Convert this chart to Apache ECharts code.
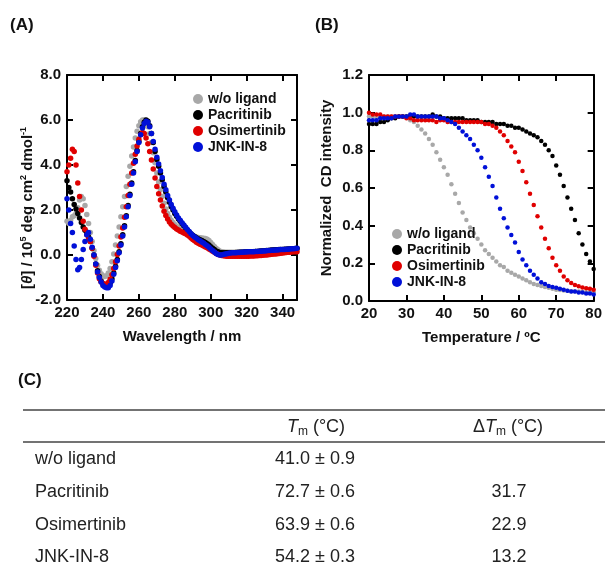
<!DOCTYPE html>
<html>
<head>
<meta charset="utf-8">
<script src="https://cdn.jsdelivr.net/npm/echarts@6/dist/echarts.min.js"></script>
<style>
  html, body { margin: 0; padding: 0; background: #fff; }
  #chart { width: 605px; height: 570px; }
</style>
</head>
<body>
<div id="chart"></div>
<script>
// (A) CD spectra, 220-348 nm, 1 nm step
var wlStart = 220
var cdGray = [1.5, 1.4, 1.55, 1.7, 1.75, 1.85, 2.1, 2.45, 2.6, 2.5, 2.2, 1.8, 1.4,
  1.0, 0.6, 0.2, -0.15, -0.45, -0.68, -0.83, -0.92, -0.95, -0.92,
  -0.8, -0.6, -0.3, 0.05, 0.45, 0.85, 1.25, 1.7, 2.15, 2.6,
  3.05, 3.5, 3.95, 4.4, 4.8, 5.2, 5.5, 5.75, 5.92, 6.0,
  6.0, 5.9, 5.7, 5.4, 5.0, 4.55, 4.1, 3.65, 3.25, 2.9,
  2.6, 2.3, 2.05, 1.85, 1.68, 1.55, 1.45, 1.36, 1.28, 1.22,
  1.16, 1.1, 1.05, 1.0, 0.96, 0.92, 0.88, 0.85, 0.82, 0.8,
  0.78, 0.77, 0.76, 0.75, 0.73, 0.7, 0.64, 0.56, 0.47, 0.38,
  0.3, 0.23, 0.18, 0.15, 0.13, 0.12, 0.12, 0.12, 0.12, 0.12,
  0.12, 0.12, 0.13, 0.13, 0.13, 0.14, 0.14, 0.14, 0.15, 0.15,
  0.15, 0.16, 0.16, 0.17, 0.17, 0.17, 0.18, 0.18, 0.19, 0.19,
  0.2, 0.2, 0.21, 0.21, 0.22, 0.22, 0.23, 0.23, 0.24, 0.24,
  0.25, 0.25, 0.26, 0.26, 0.27, 0.27]
var cdBlack = [3.3, 3.0, 2.8, 2.5, 2.25, 2.05, 1.85, 1.65, 1.45, 1.25, 1.1, 0.95, 0.8,
  0.6, 0.3, 0.0, -0.4, -0.7, -0.95, -1.15, -1.28, -1.35, -1.38,
  -1.35, -1.25, -1.05, -0.8, -0.5, -0.2, 0.15, 0.5, 0.9, 1.3,
  1.75, 2.2, 2.7, 3.2, 3.7, 4.2, 4.65, 5.05, 5.4, 5.7,
  5.9, 6.0, 5.95, 5.75, 5.4, 5.0, 4.6, 4.25, 3.95, 3.65,
  3.35, 3.05, 2.8, 2.55, 2.35, 2.15, 2.0, 1.85, 1.72, 1.6,
  1.5, 1.4, 1.3, 1.2, 1.1, 1.02, 0.95, 0.88, 0.82, 0.77,
  0.72, 0.68, 0.64, 0.6, 0.56, 0.5, 0.44, 0.37, 0.3, 0.24,
  0.18, 0.14, 0.11, 0.1, 0.1, 0.1, 0.1, 0.1, 0.1, 0.1,
  0.1, 0.11, 0.11, 0.12, 0.12, 0.12, 0.13, 0.13, 0.14, 0.14,
  0.15, 0.15, 0.16, 0.16, 0.17, 0.18, 0.18, 0.19, 0.2, 0.2,
  0.21, 0.22, 0.22, 0.23, 0.23, 0.24, 0.25, 0.25, 0.26, 0.26,
  0.27, 0.27, 0.28, 0.28, 0.29, 0.3]
var cdRed = [3.7, 4.0, 4.3, 4.7, 4.6, 4.0, 3.2, 2.6, 2.0, 1.5, 1.15, 0.9, 0.7,
  0.6, 0.3, -0.05, -0.45, -0.8, -1.05, -1.2, -1.28, -1.3, -1.3,
  -1.22, -1.08, -0.88, -0.6, -0.3, 0.02, 0.4, 0.8, 1.2, 1.68,
  2.15, 2.65, 3.15, 3.65, 4.08, 4.48, 4.85, 5.15, 5.35, 5.45,
  5.4, 5.2, 4.95, 4.6, 4.22, 3.82, 3.42, 3.05, 2.72, 2.44,
  2.18, 1.95, 1.76, 1.6, 1.47, 1.37, 1.29, 1.22, 1.16, 1.11,
  1.06, 1.02, 0.98, 0.94, 0.89, 0.83, 0.76, 0.69, 0.63, 0.57,
  0.52, 0.48, 0.44, 0.4, 0.36, 0.32, 0.27, 0.22, 0.17, 0.12,
  0.07, 0.03, 0.0, -0.02, -0.03, -0.04, -0.05, -0.05, -0.05, -0.05,
  -0.05, -0.05, -0.05, -0.05, -0.05, -0.05, -0.05, -0.05, -0.05, -0.04,
  -0.04, -0.04, -0.03, -0.03, -0.02, -0.02, -0.01, 0.0, 0.0, 0.01,
  0.02, 0.03, 0.04, 0.05, 0.06, 0.07, 0.08, 0.09, 0.1, 0.11,
  0.12, 0.12, 0.13, 0.14, 0.14, 0.15]
var cdBlue = [2.5, 2.0, 1.4, 1.0, 0.4, -0.2, -0.65, -0.55, -0.2, 0.25, 0.6, 0.9, 1.0,
  0.7, 0.35, 0.0, -0.4, -0.75, -1.0, -1.2, -1.35, -1.42, -1.46,
  -1.45, -1.35, -1.15, -0.85, -0.55, -0.25, 0.1, 0.45, 0.85, 1.25,
  1.7, 2.15, 2.65, 3.15, 3.65, 4.15, 4.6, 5.0, 5.35, 5.65,
  5.85, 5.95, 5.9, 5.7, 5.4, 5.05, 4.7, 4.35, 4.05, 3.75,
  3.45, 3.15, 2.9, 2.65, 2.45, 2.25, 2.08, 1.92, 1.78, 1.65,
  1.54, 1.43, 1.33, 1.23, 1.13, 1.04, 0.95, 0.87, 0.8, 0.74,
  0.68, 0.63, 0.58, 0.53, 0.47, 0.41, 0.34, 0.27, 0.2, 0.13,
  0.07, 0.02, 0.0, 0.0, 0.02, 0.04, 0.06, 0.08, 0.09, 0.1,
  0.1, 0.1, 0.11, 0.11, 0.12, 0.12, 0.13, 0.13, 0.14, 0.14,
  0.15, 0.15, 0.16, 0.16, 0.17, 0.17, 0.18, 0.18, 0.19, 0.2,
  0.2, 0.21, 0.21, 0.22, 0.22, 0.23, 0.24, 0.24, 0.25, 0.26,
  0.26, 0.27, 0.28, 0.28, 0.29, 0.3]

// (B) thermal melting, 20-80 degC, 1 degC step
var tStart = 20
var meltGray = [0.98, 0.98, 0.97, 0.98, 0.98, 0.98, 0.98, 0.98, 0.98, 0.98, 0.98,
  0.96, 0.95, 0.93, 0.91, 0.89, 0.86, 0.83, 0.79, 0.75, 0.71,
  0.67, 0.62, 0.57, 0.52, 0.47, 0.43, 0.39, 0.36, 0.33, 0.30,
  0.27, 0.25, 0.23, 0.21, 0.19, 0.18, 0.16, 0.15, 0.14, 0.13,
  0.12, 0.11, 0.10, 0.09, 0.085, 0.08, 0.075, 0.07, 0.065, 0.06,
  0.058, 0.056, 0.054, 0.052, 0.05, 0.05, 0.048, 0.047, 0.046, 0.045]
var meltBlack = [0.94, 0.94, 0.94, 0.95, 0.95, 0.96, 0.97, 0.97, 0.98, 0.98, 0.98,
  0.98, 0.98, 0.98, 0.98, 0.98, 0.98, 0.99, 0.98, 0.98, 0.97,
  0.97, 0.97, 0.97, 0.97, 0.97, 0.96, 0.96, 0.96, 0.96, 0.95,
  0.95, 0.95, 0.95, 0.94, 0.94, 0.94, 0.93, 0.93, 0.92, 0.92,
  0.91, 0.9, 0.89, 0.88, 0.87, 0.85, 0.83, 0.8, 0.77, 0.72,
  0.67, 0.61, 0.55, 0.49, 0.43, 0.36, 0.3, 0.25, 0.21, 0.17]
var meltRed = [1.0, 0.99, 0.99, 0.99, 0.98, 0.98, 0.98, 0.98, 0.98, 0.98, 0.97,
  0.97, 0.96, 0.96, 0.96, 0.96, 0.96, 0.96, 0.95, 0.96, 0.96,
  0.95, 0.95, 0.95, 0.95, 0.95, 0.95, 0.95, 0.95, 0.95, 0.95,
  0.94, 0.94, 0.93, 0.92, 0.9, 0.88, 0.85, 0.82, 0.79, 0.74,
  0.69, 0.63, 0.57, 0.51, 0.45, 0.39, 0.33, 0.28, 0.23, 0.19,
  0.16, 0.13, 0.11, 0.095, 0.085, 0.078, 0.072, 0.068, 0.065, 0.06]
var meltBlue = [0.96, 0.96, 0.96, 0.97, 0.97, 0.97, 0.97, 0.98, 0.98, 0.98, 0.98,
  0.99, 0.99, 0.98, 0.98, 0.98, 0.98, 0.98, 0.98, 0.97, 0.97,
  0.96, 0.95, 0.94, 0.92, 0.9, 0.88, 0.86, 0.83, 0.8, 0.76,
  0.71, 0.66, 0.61, 0.55, 0.49, 0.44, 0.39, 0.35, 0.31, 0.26,
  0.22, 0.19, 0.16, 0.14, 0.12, 0.1, 0.09, 0.08, 0.075, 0.07,
  0.065, 0.06, 0.055, 0.05, 0.05, 0.045, 0.045, 0.04, 0.04, 0.035]

// (C) table
var ligands = ['w/o ligand', 'Pacritinib', 'Osimertinib', 'JNK-IN-8']
var tmValues = ['41.0', '72.7', '63.9', '54.2']
var tmErrors = ['0.9', '0.6', '0.6', '0.3']
var dTmValues = ['', '31.7', '22.9', '13.2']

var colors = ['#a8a8a8', '#000000', '#e00000', '#0010d8']
var font = "'Liberation Sans', Arial, sans-serif"

function pairs(start, arr) {
  return arr.map(function (v, i) { return [start + i, v] })
}

var chart = echarts.init(document.getElementById('chart'))

var axisBase = {
  axisLine: { show: true, onZero: false, lineStyle: { color: '#000', width: 2 } },
  axisTick: { show: true, inside: true, length: 6, lineStyle: { color: '#000', width: 2 } },
  splitLine: { show: false }
}
function mkAxis(extra, labels) {
  var a = Object.assign({}, axisBase, extra)
  a.axisLabel = labels ? Object.assign({ color: '#111', fontFamily: font, fontWeight: 'bold', fontSize: 15 }, labels) : { show: false }
  return a
}

var cdSets = [cdGray, cdBlack, cdRed, cdBlue]
var meltSets = [meltGray, meltBlack, meltRed, meltBlue]
var series = []
ligands.forEach(function (name, k) {
  series.push({
    name: name, type: 'scatter', xAxisIndex: 0, yAxisIndex: 0,
    symbolSize: 5.5, itemStyle: { color: colors[k], opacity: 1 },
    data: pairs(wlStart, cdSets[k])
  })
})
ligands.forEach(function (name, k) {
  series.push({
    name: name, type: 'scatter', xAxisIndex: 2, yAxisIndex: 2,
    symbolSize: 4.5, itemStyle: { color: colors[k], opacity: 1 },
    data: pairs(tStart, meltSets[k])
  })
})

var legendBase = {
  orient: 'vertical', icon: 'circle', itemWidth: 10, itemHeight: 10, itemGap: 2,
  textStyle: { fontFamily: font, fontWeight: 'bold', fontSize: 14, color: '#111', lineHeight: 14 },
  data: ligands, selectedMode: false
}

var graphics = [
  { type: 'text', left: 10, top: 17, style: { text: '(A)', font: 'bold 17px ' + font, fill: '#111' } },
  { type: 'text', left: 315, top: 17, style: { text: '(B)', font: 'bold 17px ' + font, fill: '#111' } },
  { type: 'text', left: 18, top: 372, style: { text: '(C)', font: 'bold 17px ' + font, fill: '#111' } },
  {
    type: 'text', x: 28, y: 208, rotation: Math.PI / 2,
    style: {
      text: '{t|[}{i|θ}{t|] / 10}{s|5}{t| deg cm}{s|2}{t| dmol}{s|-1}',
      align: 'center', verticalAlign: 'middle',
      rich: {
        t: { fontFamily: font, fontWeight: 'bold', fontSize: 15, lineHeight: 18, fill: '#111' },
        i: { fontFamily: font, fontWeight: 'bold', fontStyle: 'italic', fontSize: 15, lineHeight: 18, fill: '#111' },
        s: { fontFamily: font, fontWeight: 'bold', fontSize: 9, lineHeight: 12, verticalAlign: 'top', fill: '#111' }
      }
    }
  },
  { type: 'line', shape: { x1: 23, y1: 410, x2: 605, y2: 410 }, style: { stroke: '#444', lineWidth: 1.5 } },
  { type: 'line', shape: { x1: 23, y1: 442, x2: 605, y2: 442 }, style: { stroke: '#444', lineWidth: 1.5 } }
]
var hdrRich = {
  n: { fontFamily: font, fontSize: 18, lineHeight: 22, fill: '#222' },
  i: { fontFamily: font, fontSize: 18, fontStyle: 'italic', lineHeight: 22, fill: '#222' },
  sub: { fontFamily: font, fontSize: 12, lineHeight: 12, verticalAlign: 'bottom', fill: '#222' }
}
graphics.push({ type: 'text', x: 316, y: 427, style: { text: '{i|T}{sub|m}{n| (°C)}', align: 'center', verticalAlign: 'middle', rich: hdrRich } })
graphics.push({ type: 'text', x: 508, y: 427, style: { text: '{n|Δ}{i|T}{sub|m}{n| (°C)}', align: 'center', verticalAlign: 'middle', rich: hdrRich } })
var rowY = [459, 492, 525, 557]
ligands.forEach(function (name, r) {
  var st = { font: '18px ' + font, fill: '#222', verticalAlign: 'middle' }
  graphics.push({ type: 'text', x: 35, y: rowY[r], style: Object.assign({ text: name, align: 'left' }, st) })
  graphics.push({ type: 'text', x: 315, y: rowY[r], style: Object.assign({ text: tmValues[r] + ' ± ' + tmErrors[r], align: 'center' }, st) })
  if (dTmValues[r]) {
    graphics.push({ type: 'text', x: 509, y: rowY[r], style: Object.assign({ text: dTmValues[r], align: 'center' }, st) })
  }
})

chart.setOption({
  animation: false,
  backgroundColor: '#fff',
  grid: [
    { left: 67, top: 75, width: 230, height: 225 },
    { left: 369, top: 75, width: 228, height: 226 }
  ],
  xAxis: [
    mkAxis({ type: 'value', gridIndex: 0, min: 220, max: 348, interval: 20, position: 'bottom',
      name: 'Wavelength / nm', nameLocation: 'middle', nameGap: 29,
      nameTextStyle: { fontFamily: font, fontWeight: 'bold', fontSize: 15, color: '#111' } }, { margin: 5 }),
    mkAxis({ type: 'value', gridIndex: 0, min: 220, max: 348, interval: 20, position: 'top' }, null),
    mkAxis({ type: 'value', gridIndex: 1, min: 20, max: 80, interval: 10, position: 'bottom',
      name: 'Temperature / ºC', nameLocation: 'middle', nameGap: 29,
      nameTextStyle: { fontFamily: font, fontWeight: 'bold', fontSize: 15, color: '#111' } }, { margin: 5 }),
    mkAxis({ type: 'value', gridIndex: 1, min: 20, max: 80, interval: 10, position: 'top' }, null)
  ],
  yAxis: [
    mkAxis({ type: 'value', gridIndex: 0, min: -2, max: 8, interval: 2, position: 'left' },
      { margin: 6, formatter: function (v) { return v.toFixed(1) } }),
    mkAxis({ type: 'value', gridIndex: 0, min: -2, max: 8, interval: 2, position: 'right' }, null),
    mkAxis({ type: 'value', gridIndex: 1, min: 0, max: 1.2, interval: 0.2, position: 'left',
      name: 'Normalized  CD intensity', nameLocation: 'middle', nameGap: 35,
      nameTextStyle: { fontFamily: font, fontWeight: 'bold', fontSize: 15, color: '#111' } },
      { margin: 6, formatter: function (v) { return v.toFixed(1) } }),
    mkAxis({ type: 'value', gridIndex: 1, min: 0, max: 1.2, interval: 0.2, position: 'right' }, null)
  ],
  legend: [
    Object.assign({ left: 188, top: 87 }, legendBase),
    Object.assign({ left: 387, top: 222 }, legendBase)
  ],
  graphic: graphics,
  series: series
})
</script>
</body>
</html>
